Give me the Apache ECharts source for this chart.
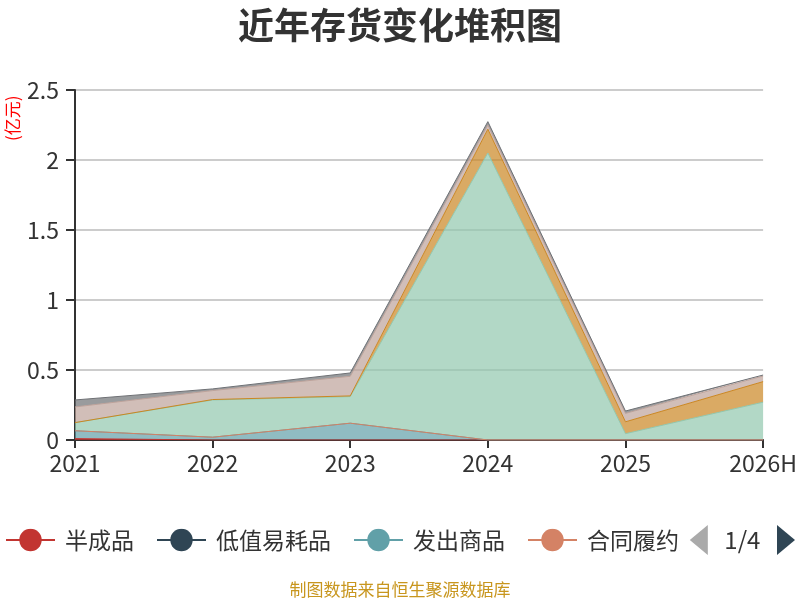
<!DOCTYPE html>
<html>
<head>
<meta charset="utf-8">
<script src="https://cdn.jsdelivr.net/npm/echarts@6/dist/echarts.min.js"></script>
<style>
  html, body { margin: 0; padding: 0; background: #fff; }
  #main { width: 800px; height: 600px; }
</style>
</head>
<body>
<div id="main"></div>
<script>
// 年份
const years = ['2021', '2022', '2023', '2024', '2025', '2026H']
// 各存货项目（亿元），从图上估读；无数据的项目为空
const banChengPin = [0.01, 0, 0, 0, 0, 0]
const diZhiYiHaoPin = [null, null, null, null, null, null]
const faChuShangPin = [0.056, 0.02, 0.12, 0, 0, 0]
const heTongLvYue = [0, 0, 0, 0, 0, 0]
const kuCunShangPin = [0.058, 0.266, 0.19, 2.05, 0.045, 0.27]
const weiTuoJiaGong = [null, null, null, null, null, null]
const yuanCaiLiao = [0, 0.003, 0.005, 0.17, 0.085, 0.147]
const zaiChanPin = [0.112, 0.064, 0.14, 0.03, 0.06, 0.04]
const zhouZhuanCaiLiao = [0.05, 0.012, 0.024, 0.024, 0.017, 0.007]
const ziZhiBanChengPin = [null, null, null, null, null, null]
const xiaoHaoXingShengWu = [null, null, null, null, null, null]

const seriesList = [
  ['半成品', banChengPin],
  ['低值易耗品', diZhiYiHaoPin],
  ['发出商品', faChuShangPin],
  ['合同履约成本', heTongLvYue],
  ['库存商品', kuCunShangPin],
  ['委托加工物资', weiTuoJiaGong],
  ['原材料', yuanCaiLiao],
  ['在产品', zaiChanPin],
  ['周转材料', zhouZhuanCaiLiao],
  ['自制半成品', ziZhiBanChengPin],
  ['消耗性生物资产', xiaoHaoXingShengWu],
]

const colors = ['#c23531', '#2f4554', '#61a0a8', '#d48265', '#91c7ae',
  '#749f83', '#ca8622', '#bda29a', '#6e7074', '#546570', '#c4ccd3']

let chart = echarts.init(document.getElementById('main'))
chart.setOption({
  color: colors,
  textStyle: { fontFamily: '"Noto Sans CJK SC", "Noto Sans", sans-serif' },
  title: [{
    text: '近年存货变化堆积图',
    left: 'center',
    top: 2,
    textStyle: { fontSize: 36, fontWeight: 'bold', color: '#333' }
  }, {
    text: '制图数据来自恒生聚源数据库',
    left: 'center',
    top: 576,
    textStyle: { fontSize: 17, fontWeight: 'normal', color: '#c8961e' }
  }],
  graphic: [{
    type: 'text',
    x: 4,
    y: 141,
    rotation: Math.PI / 2,
    style: { text: '(亿元)', fill: '#f00', fontSize: 17, fontFamily: '"Noto Sans CJK SC", sans-serif' }
  }],
  legend: {
    type: 'scroll',
    left: 0,
    right: 0,
    top: 520,
    itemWidth: 49,
    itemHeight: 28,
    itemGap: 22,
    textStyle: { fontSize: 23, color: '#333', padding: [0, 0, 0, 5] },
    pageButtonGap: 10,
    pageButtonItemGap: 6,
    pageIconColor: '#2f4554',
    pageIconInactiveColor: '#aaa',
    pageIconSize: [18, 30],
    pageTextStyle: { fontSize: 24, color: '#333' },
    data: seriesList.map(s => s[0])
  },
  grid: { left: 75, right: 32, top: 90, bottom: 160 },
  xAxis: {
    type: 'category',
    boundaryGap: false,
    data: years,
    axisLine: { lineStyle: { color: '#333', width: 2 } },
    axisTick: { show: true, length: 8, lineStyle: { color: '#333', width: 2 } },
    axisLabel: { fontSize: 23, color: '#333', margin: 12 }
  },
  yAxis: {
    type: 'value',
    min: 0,
    max: 2.5,
    interval: 0.5,
    axisLine: { show: true, lineStyle: { color: '#333', width: 2 } },
    axisTick: { show: true, length: 9, lineStyle: { color: '#333', width: 2 } },
    axisLabel: { fontSize: 23, color: '#333', margin: 16 },
    splitLine: { lineStyle: { color: '#ccc', width: 2 } }
  },
  series: seriesList.map(s => ({
    name: s[0],
    type: 'line',
    stack: 'total',
    data: s[1],
    symbol: 'circle',
    symbolSize: 8,
    showSymbol: false,
    lineStyle: { width: 1 },
    areaStyle: { opacity: 0.7 }
  }))
})
window.addEventListener('resize', () => {
  chart.resize()
})
</script>
</body>
</html>
